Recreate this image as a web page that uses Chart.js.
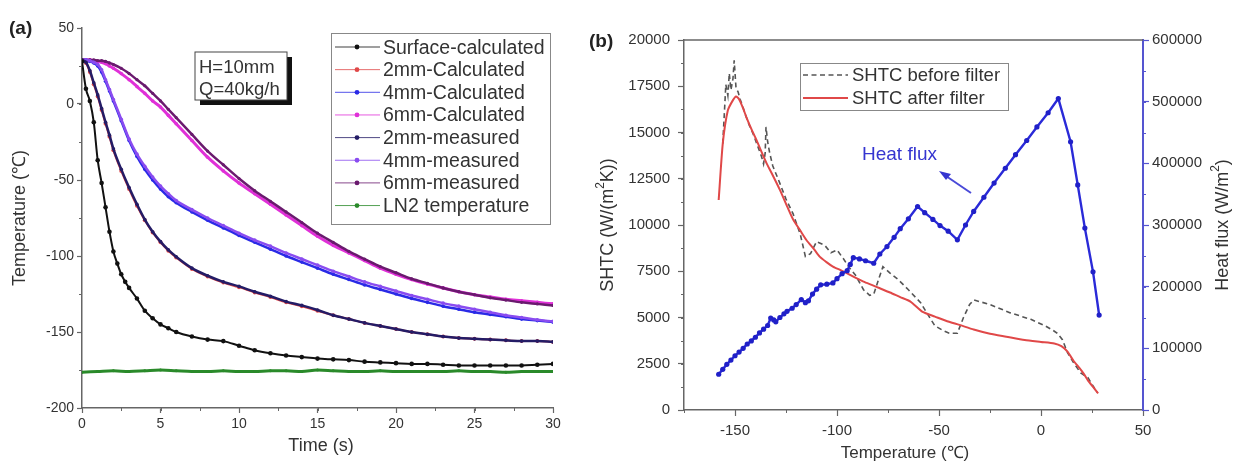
<!DOCTYPE html>
<html><head><meta charset="utf-8">
<script src="https://cdn.jsdelivr.net/npm/chart.js@4/dist/chart.umd.min.js"></script>
<style>
body{margin:0;background:#fff;width:1235px;height:468px;position:relative;overflow:hidden;font-family:"Liberation Sans",Arial,sans-serif;}
#ca{position:absolute;left:0;top:0;}
#cb{position:absolute;left:575px;top:0;}
#ov{position:absolute;left:0;top:0;pointer-events:none;}
</style></head><body>
<canvas id="ca" width="575" height="468"></canvas>
<canvas id="cb" width="660" height="468"></canvas>
<svg id="ov" width="1235" height="468" xmlns="http://www.w3.org/2000/svg" font-family="Liberation Sans, Arial, sans-serif">
  <!-- panel a texts -->
  <text x="9" y="34" font-size="19" font-weight="bold" fill="#222">(a)</text>
  <text transform="translate(19,218) rotate(-90)" text-anchor="middle" dominant-baseline="central" font-size="18" fill="#333">Temperature (℃)</text>
  <text x="321" y="451" text-anchor="middle" font-size="18" fill="#333">Time (s)</text>
  <rect x="200" y="57" width="92" height="48" fill="#111"/>
  <rect x="195" y="52" width="92" height="48" fill="#fff" stroke="#444" stroke-width="1"/>
  <text x="199" y="73" font-size="18.5" fill="#333">H=10mm</text>
  <text x="199" y="95" font-size="18.5" fill="#333">Q=40kg/h</text>
  <rect x="331.5" y="33.5" width="219" height="191" fill="#fff" stroke="#888" stroke-width="1"/>
  <g id="legA"></g>
  <!-- panel b texts -->
  <text x="589" y="47" font-size="19" font-weight="bold" fill="#222">(b)</text>
  <text transform="translate(607,225) rotate(-90)" text-anchor="middle" dominant-baseline="central" font-size="18" fill="#333">SHTC (W/(m<tspan baseline-shift="super" font-size="12">2</tspan>K))</text>
  <text transform="translate(1222,225) rotate(-90)" text-anchor="middle" dominant-baseline="central" font-size="18" fill="#333">Heat flux (W/m<tspan baseline-shift="super" font-size="12">2</tspan>)</text>
  <text x="905" y="458" text-anchor="middle" font-size="17" fill="#333">Temperature (℃)</text>
  <rect x="800.5" y="63.5" width="208" height="47" fill="#fff" stroke="#888" stroke-width="1"/>
  <line x1="803" y1="75" x2="848" y2="75" stroke="#555" stroke-width="1.6" stroke-dasharray="5,3.5"/>
  <text x="852" y="81" font-size="18.5" fill="#333">SHTC before filter</text>
  <line x1="803" y1="98" x2="848" y2="98" stroke="#e04848" stroke-width="2"/>
  <text x="852" y="104" font-size="18.5" fill="#333">SHTC after filter</text>
  <text x="862" y="160" font-size="19" fill="#3535d0">Heat flux</text>
  <line x1="971" y1="193" x2="946" y2="176" stroke="#4a4ad8" stroke-width="2"/>
  <polygon points="939,171 951,174 946,180" fill="#3535d0"/>
</svg>
<script>
// ---------------- Panel (a) data ----------------
const tSurf = [0,0.25,0.5,0.75,1,1.25,1.5,1.75,2,2.25,2.5,2.75,3,3.5,4,4.5,5,5.5,6,7,8,9,10,11,12,13,14,15,16,17,18,19,20,21,22,23,24,25,26,27,28,29,30];
const surfaceCalc = [28,10,2,-12,-37,-52,-68,-84,-97,-105,-112,-117,-121,-128,-136,-141,-145,-147.5,-150,-153,-155,-156,-159,-162,-164,-165.5,-166.5,-167.5,-168,-168.5,-169.5,-170,-170.5,-171,-171,-171.5,-172,-172,-172,-172,-172,-171.5,-171];
const tDepth = [0,0.25,0.5,0.75,1,1.25,1.5,1.75,2,2.5,3,3.5,4,4.5,5,5.5,6,7,8,9,10,11,12,13,14,15,16,17,18,19,20,21,22,23,24,25,26,27,28,29,30];
const mm2Calc = [29,27,21,13,5,-4,-13,-21.5,-30.5,-44,-56,-67,-76.5,-84.5,-91,-96.5,-101,-108.5,-113.5,-117.5,-120.5,-124,-127,-130.5,-133,-136,-139,-141.5,-144,-146,-148,-150,-151.5,-153,-154,-154.5,-155,-155.5,-156,-156,-156.5];
const mm4Calc = [29,29,28,27,25,21,15,8.5,2,-11,-24,-34.5,-43,-50,-56,-61,-65,-71,-76.5,-81.5,-86.5,-91,-95.5,-100,-104,-108,-112,-115.5,-119,-122,-125,-128,-130.5,-133,-135,-137,-138.5,-140,-141.5,-142.5,-143.5];
const mm6Calc = [29,29,29,28.5,28,27.5,26.5,25,23.5,20,16,11.5,7,2,-2,-7.5,-13,-24,-35,-44,-52,-59,-66,-73,-80,-87,-93,-98,-103,-108,-112,-115.5,-118.5,-121,-123.5,-125.5,-127,-128.5,-129.5,-130.5,-131.5];
const mm2Meas = [29,27.5,22,14,6,-3,-12,-20.5,-29.5,-43,-55,-66,-76,-84,-90.5,-96,-100.5,-108,-113,-117,-120,-123.5,-126.5,-130,-132.5,-135.5,-139,-141.5,-144,-146,-148,-150,-151.5,-153,-154,-154.5,-155,-155.5,-156,-156,-156.5];
const mm4Meas = [29,29,28.5,27.5,26,22.5,16,9.5,3,-10,-23,-33,-41,-48,-54,-59,-63.5,-69.5,-75,-80,-85,-89.5,-93.5,-98,-102,-106,-110,-113.5,-117,-120,-123,-126,-128.5,-131,-133,-135,-137,-139,-140.5,-142,-143];
const mm6Meas = [29,29,29,29,28.5,28.5,28,27,26,23.5,20,16,12,7,2,-3.5,-9,-20,-31,-40,-49,-57,-64,-71,-78,-85,-91,-97,-102,-107,-111,-115,-118,-121,-123.5,-125.5,-127.5,-129,-130.5,-131.5,-132.5];
const tLN2 = [0,1,2,3,4,5,6,7,8,9,10,11,12,13,14,15,16,17,18,19,20,21,22,23,24,25,26,27,28,29,30];
const ln2Temp = [-176.5,-176,-175.5,-176,-175.5,-175,-175.5,-176,-176,-175.5,-176,-176,-175.5,-175.5,-176,-175,-175.5,-176,-176,-175.5,-176,-176,-176,-176,-175.5,-176,-176,-176.5,-176,-176,-176];
const legendA = ["Surface-calculated","2mm-Calculated","4mm-Calculated","6mm-Calculated","2mm-measured","4mm-measured","6mm-measured","LN2 temperature"];
const ticksAx = [0,5,10,15,20,25,30];
const ticksAy = [-200,-150,-100,-50,0,50];

// ---------------- Panel (b) data ----------------
const afterT = [-158,-156,-153.5,-151,-149.5,-148,-146,-144.5,-142,-139.5,-137,-134.5,-132,-128,-124,-121.5,-118,-115,-111,-108.5,-105,-102,-98,-95,-91,-87,-83,-79,-74,-69,-64,-58,-52,-46,-40,-33,-25,-17,-8,0,6.5,10,13,16,19,21,23,25.5,28];
const shtcAfter = [11350,14400,16200,16750,16950,16800,16300,15850,15200,14600,13950,13330,12800,11900,10900,10300,9700,9190,8650,8290,7980,7750,7550,7390,7150,6940,6760,6580,6350,6100,5860,5300,5050,4800,4600,4350,4120,3960,3780,3680,3600,3450,3150,2650,2250,1950,1600,1250,900];
const beforeT = [-156,-155,-154.5,-153.5,-152.8,-152,-151,-150.4,-149.5,-148.5,-147.5,-146.5,-145,-143,-141,-139,-137,-136,-135.2,-134.8,-134,-133,-131.5,-128,-125,-121.5,-118,-115.5,-113,-110,-106,-103,-100,-97,-94,-91,-87,-84,-82,-79.5,-77.5,-74,-70,-65,-59,-56,-52,-48,-45,-41,-38,-35,-33,-25,-15,-5,2,6,8,10.5,13,16,19.5,23,25.5,27.5];
const shtcBefore = [14400,16500,17600,17000,18200,17300,17900,18900,17400,17200,16800,16500,16000,15400,14900,14300,13700,13300,13900,15300,14500,13900,13200,12250,11400,10600,9500,8300,8450,9100,8900,8500,8650,8200,7700,7300,6500,6200,6250,7100,7750,7400,7050,6500,5800,5250,4550,4300,4150,4150,5000,5700,5950,5700,5250,4900,4550,4300,4150,3800,3100,2550,2000,1750,1300,950];
const fluxT = [-158,-156,-154,-152,-150,-148,-146,-144,-142,-140,-138,-136,-134,-132.5,-131,-130,-128,-126,-124.5,-122,-120,-117.5,-115.5,-114,-112,-110,-108,-105,-102,-100,-97.5,-95,-93.5,-92,-89,-86,-82,-79,-75.5,-72,-69,-65,-60.5,-57,-53,-49.5,-45.5,-41,-37,-33,-28,-23,-17.5,-12.5,-7,-2,3.5,8.5,14.5,18,21.5,25.5,28.5];
const heatFlux = [58000,66000,74000,81000,88000,94000,100000,107000,112000,118000,125000,131000,137000,149000,146000,143000,150000,156000,160000,165000,171000,179000,174000,177000,188000,196000,203000,204000,206000,213000,221000,226000,236000,247000,245000,242000,238000,253000,265000,280000,294000,310000,330000,320000,309000,299000,290000,276000,300000,322000,345000,368000,392000,414000,437000,459000,482000,505000,435000,365000,295000,224000,154000];
const ticksBx = [-150,-100,-50,0,50];
const ticksBy = [0,2500,5000,7500,10000,12500,15000,17500,20000];
const ticksBy2 = [0,100000,200000,300000,400000,500000,600000];

function pts(xs, ys){ return xs.map((x,i)=>({x:x, y:ys[i]})); }
function fixTicks(list){ return s=>{ s.ticks = list.map(v=>({value:v})); }; }
const plain = v => String(v);

const minorTicks = {
  id:'minorTicks',
  afterDraw(chart, args, opts){
    const ctx = chart.ctx;
    (opts.axes||[]).forEach(a=>{
      const sc = chart.scales[a.id];
      ctx.save(); ctx.strokeStyle=a.color; ctx.lineWidth=a.width||1;
      for(let v=a.from; v<=a.to+1e-9; v+=a.step){
        const p = Math.round(sc.getPixelForValue(v))+0.5;
        ctx.beginPath();
        if(a.pos==='bottom'){ ctx.moveTo(p, sc.top); ctx.lineTo(p, sc.top+a.len); }
        else if(a.pos==='left'){ ctx.moveTo(sc.right, p); ctx.lineTo(sc.right-a.len, p); }
        else { ctx.moveTo(sc.left, p); ctx.lineTo(sc.left+a.len, p); }
        ctx.stroke();
      }
      ctx.restore();
    });
  }
};
const topFrame = {
  id:'topFrame',
  afterDraw(chart, args, opts){
    if(!opts.draw) return;
    const {ctx, chartArea:a} = chart;
    ctx.save(); ctx.strokeStyle=opts.color; ctx.lineWidth=opts.width;
    ctx.beginPath(); ctx.moveTo(a.left, a.top); ctx.lineTo(a.right, a.top); ctx.stroke(); ctx.restore();
  }
};

// ----- Panel a chart -----
const colA = {surf:'#111111', c2:'#e04848', c4:'#2a2ae6', c6:'#e030d8', m2:'#241c66', m4:'#8a4cf0', m6:'#6a1a6e', ln2:'#2a8a2a'};
function dsA(label, xs, ys, color, r, w){
  return {label, data:pts(xs,ys), borderColor:color, backgroundColor:color, pointBackgroundColor:color,
    pointBorderColor:color, pointRadius:r, pointBorderWidth:0, borderWidth:w, cubicInterpolationMode:'monotone', fill:false};
}
const tickFontA = {family:'Liberation Sans', size:14};
new Chart(document.getElementById('ca'), {
  type:'line',
  data:{datasets:[
    dsA(legendA[7], tLN2, ln2Temp, colA.ln2, 1.5, 3),
    dsA(legendA[0], tSurf, surfaceCalc, colA.surf, 2.3, 2),
    dsA(legendA[4], tDepth, mm2Meas, colA.m2, 1.8, 2.5),
    dsA(legendA[1], tDepth, mm2Calc, colA.c2, 2, 2),
    dsA(legendA[5], tDepth, mm4Meas, colA.m4, 1.8, 2.5),
    dsA(legendA[2], tDepth, mm4Calc, colA.c4, 1.8, 2.5),
    dsA(legendA[6], tDepth, mm6Meas, colA.m6, 1.6, 2.5),
    dsA(legendA[3], tDepth, mm6Calc, colA.c6, 1.8, 3)
  ]},
  options:{
    responsive:false, animation:false,
    layout:{padding:{left:0,right:22,top:28,bottom:0}},
    plugins:{legend:{display:false}, tooltip:{enabled:false},
      minorTicks:{axes:[
        {id:'x', pos:'bottom', from:0, to:30, step:2.5, len:3, color:'#666'},
        {id:'y', pos:'left', from:-200, to:50, step:25, len:3, color:'#666'}]}},
    scales:{
      x:{type:'linear', min:0, max:30, afterFit:s=>{s.height=60;}, afterBuildTicks:fixTicks(ticksAx),
        ticks:{color:'#333', font:tickFontA, padding:3, maxRotation:0, callback:plain},
        grid:{drawOnChartArea:false, drawTicks:true, tickLength:5, tickColor:'#666', tickWidth:1.2},
        border:{display:true, color:'#666', width:1.5}},
      y:{type:'linear', min:-200, max:50, afterFit:s=>{s.width=82;}, afterBuildTicks:fixTicks(ticksAy),
        ticks:{color:'#333', font:tickFontA, padding:3, callback:plain},
        grid:{drawOnChartArea:false, drawTicks:true, tickLength:5, tickColor:'#666', tickWidth:1.2},
        border:{display:true, color:'#666', width:1.5}}
    }
  },
  plugins:[minorTicks]
});

// legend a (drawn into svg)
(function(){
  const g = document.getElementById('legA');
  const cols = [colA.surf, colA.c2, colA.c4, colA.c6, colA.m2, colA.m4, colA.m6, colA.ln2];
  const ns='http://www.w3.org/2000/svg';
  legendA.forEach((lab,i)=>{
    const y = 47 + i*22.65;
    const ln = document.createElementNS(ns,'line');
    ln.setAttribute('x1',335); ln.setAttribute('x2',380); ln.setAttribute('y1',y); ln.setAttribute('y2',y);
    ln.setAttribute('stroke',cols[i]); ln.setAttribute('stroke-width',1); ln.setAttribute('opacity',0.8);
    g.appendChild(ln);
    const c = document.createElementNS(ns,'circle');
    c.setAttribute('cx',357); c.setAttribute('cy',y); c.setAttribute('r',2.4); c.setAttribute('fill',cols[i]);
    g.appendChild(c);
    const t = document.createElementNS(ns,'text');
    t.setAttribute('x',383); t.setAttribute('y',y+6.5); t.setAttribute('font-size','19.5'); t.setAttribute('fill','#333');
    t.textContent = lab; g.appendChild(t);
  });
})();

// ----- Panel b chart -----
const tickFontB = {family:'Liberation Sans', size:15};
new Chart(document.getElementById('cb'), {
  type:'line',
  data:{datasets:[
    {label:'Heat flux', data:pts(fluxT, heatFlux), yAxisID:'y2', borderColor:'#2a2ad8', backgroundColor:'#2a2ad8',
      pointBackgroundColor:'#2020c8', pointBorderWidth:0, pointRadius:2.6, borderWidth:2.4, tension:0, fill:false},
    {label:'SHTC after filter', data:pts(afterT, shtcAfter), yAxisID:'y', borderColor:'#e04848', backgroundColor:'#e04848',
      pointRadius:0, borderWidth:2, tension:0.2, fill:false},
    {label:'SHTC before filter', data:pts(beforeT, shtcBefore), yAxisID:'y', borderColor:'#555', backgroundColor:'#555',
      pointRadius:0, borderWidth:1.6, borderDash:[5,3.5], tension:0, fill:false}
  ]},
  options:{
    responsive:false, animation:false,
    layout:{padding:{left:0,right:0,top:40,bottom:0}},
    plugins:{legend:{display:false}, tooltip:{enabled:false},
      topFrame:{draw:true, color:'#666', width:1.5},
      minorTicks:{axes:[
        {id:'x', pos:'bottom', from:-175, to:50, step:25, len:3, color:'#666'},
        {id:'y', pos:'left', from:0, to:20000, step:1250, len:3, color:'#666'},
        {id:'y2', pos:'right', from:0, to:600000, step:50000, len:3, color:'#5555d0'}]}},
    scales:{
      x:{type:'linear', min:-175, max:50, afterFit:s=>{s.height=58;}, afterBuildTicks:fixTicks(ticksBx),
        ticks:{color:'#333', font:tickFontB, padding:6, maxRotation:0, callback:plain},
        grid:{drawOnChartArea:false, drawTicks:true, tickLength:6, tickWidth:1.2, tickColor:'#666'},
        border:{display:true, color:'#666', width:1.5}},
      y:{type:'linear', position:'left', min:0, max:20000, afterFit:s=>{s.width=109;}, afterBuildTicks:fixTicks(ticksBy),
        ticks:{color:'#333', font:tickFontB, padding:8, callback:plain},
        grid:{drawOnChartArea:false, drawTicks:true, tickLength:6, tickColor:'#666', tickWidth:1.2},
        border:{display:true, color:'#666', width:1.5}},
      y2:{type:'linear', position:'right', min:0, max:600000, afterFit:s=>{s.width=92;}, afterBuildTicks:fixTicks(ticksBy2),
        ticks:{color:'#333', font:tickFontB, padding:3, callback:plain},
        grid:{drawOnChartArea:false, drawTicks:true, tickLength:6, tickColor:'#5555d0', tickWidth:1.2},
        border:{display:true, color:'#5555d0', width:2}}
    }
  },
  plugins:[minorTicks, topFrame]
});
</script>
</body></html>
